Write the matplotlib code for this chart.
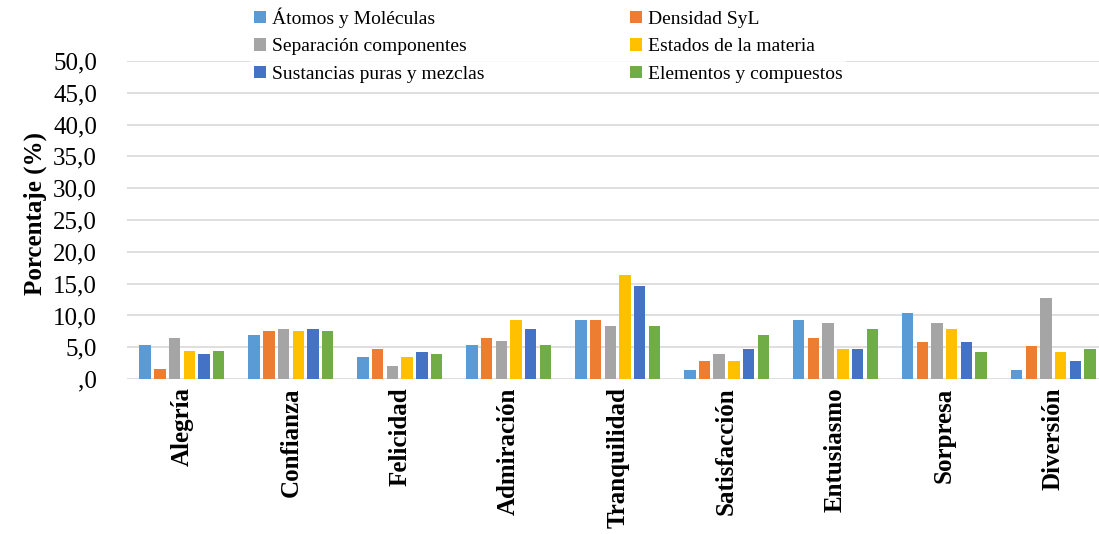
import numpy as np
import matplotlib
matplotlib.use("Agg")
import matplotlib.pyplot as plt

categories = ["Alegría", "Confianza", "Felicidad", "Admiración", "Tranquilidad",
              "Satisfacción", "Entusiasmo", "Sorpresa", "Diversión"]

series_names = ["Átomos y Moléculas", "Densidad SyL", "Separación componentes",
                "Estados de la materia", "Sustancias puras y mezclas",
                "Elementos y compuestos"]

atomos = [5.4, 7.0, 3.4, 5.3, 9.3, 1.5, 9.3, 10.4, 1.4]
densidad = [1.6, 7.5, 4.8, 6.5, 9.3, 2.9, 6.4, 5.9, 5.2]
separacion = [6.5, 7.9, 2.0, 6.0, 8.4, 3.9, 8.8, 8.8, 12.8]
estados = [4.4, 7.5, 3.4, 9.3, 16.4, 2.9, 4.8, 7.8, 4.3]
sustancias = [3.9, 7.9, 4.3, 7.9, 14.6, 4.8, 4.8, 5.9, 2.8]
elementos = [4.4, 7.5, 3.9, 5.3, 8.4, 6.9, 7.8, 4.3, 4.8]

yticks = [0, 5, 10, 15, 20, 25, 30, 35, 40, 45, 50]
ytick_labels = [",0", "5,0", "10,0", "15,0", "20,0", "25,0", "30,0",
                "35,0", "40,0", "45,0", "50,0"]

colors = ["#5B9BD5", "#ED7D31", "#A5A5A5", "#FFC000", "#4472C4", "#70AD47"]

plt.rcParams["font.family"] = ["Liberation Serif", "DejaVu Serif"]

fig = plt.figure(figsize=(10.99, 5.34), dpi=100)
ax = fig.add_axes([0.116, 0.290, 0.892, 0.596])

values = [atomos, densidad, separacion, estados, sustancias, elementos]
x = np.arange(len(categories))
pitch = 0.135
width = 0.105
handles = []
for i, (name, vals, c) in enumerate(zip(series_names, values, colors)):
    off = (i - 2.5) * pitch
    h = ax.bar(x + off, vals, width=width, color=c, label=name, zorder=3)
    handles.append(h)

ax.set_xlim(-0.5, len(categories) - 0.5)
ax.set_ylim(0, 50)
ax.set_yticks(yticks)
ax.set_yticklabels(ytick_labels, fontsize=18)
ax.set_xticks(x)
ax.set_xticklabels(categories, rotation=90, fontsize=18, fontweight="bold")
ax.tick_params(length=0, pad=6)
ax.tick_params(axis="y", pad=22)
ax.grid(axis="y", color="#D9D9D9", linewidth=1.2, zorder=0)
for s in ax.spines.values():
    s.set_visible(False)

ax.set_ylabel("Porcentaje (%)", fontsize=18, fontweight="bold")
ax.yaxis.set_label_coords(-0.082, 0.52)

# row-major legend order for a two-column layout
order = [0, 2, 4, 1, 3, 5]
leg = fig.legend([handles[k] for k in order], [series_names[k] for k in order],
                 ncol=2, loc="upper left", bbox_to_anchor=(0.219, 1.012),
                 frameon=True, fontsize=14, handlelength=0.6, handleheight=0.6,
                 handletextpad=0.3, columnspacing=7.5, labelspacing=0.55,
                 borderpad=0.2)
leg.get_frame().set_edgecolor("none")
leg.get_frame().set_facecolor("white")

fig.savefig("out.png", dpi=100)
